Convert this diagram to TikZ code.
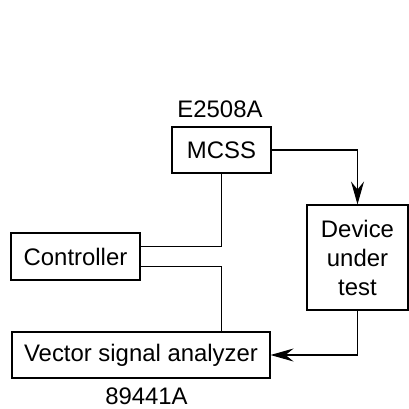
\documentclass[tikz,border=0pt]{standalone}
\usepackage{fontspec}
\setmainfont{Liberation Sans}
\usetikzlibrary{arrows.meta,positioning}
\tikzset{
  blk/.style={rectangle,draw,line width=0.6pt,inner sep=0pt,align=center,
    font=\fontsize{13.6}{16.5}\selectfont},
  lab/.style={inner sep=0pt,font=\fontsize{13.6}{16.5}\selectfont},
  wire/.style={line width=0.6pt},
  arr/.style={-{Stealth[length=4.6mm,width=2.6mm,inset=1.6mm]},line width=0.6pt}
}
\begin{document}
\begin{tikzpicture}
\useasboundingbox (0,0) rectangle (8.18,8.16);
% ---------- boxes ----------
\node[blk,minimum width=1.98cm,minimum height=0.92cm] (mcss) at (4.43,5.16) {MCSS};
\node[lab] (mcsslab) at (4.40,5.97) {E2508A};
\node[blk,minimum width=2.02cm,minimum height=2.10cm] (dut) at (7.15,3.01) {Device\\under\\test};
\node[blk,minimum width=2.58cm,minimum height=0.94cm] (ctrl) at (1.51,3.03) {Controller};
\node[blk,minimum width=5.16cm,minimum height=0.92cm] (vsa) at (2.82,1.06) {Vector signal analyzer};
\node[lab] (vsalab) at (2.93,0.24) {89441A};
% ---------- connections ----------
\draw[arr] (mcss.east) -| (dut.north);
\draw[arr] (dut.south) |- (vsa.east);
\draw[wire] (mcss.south) |- ([yshift=2mm]ctrl.east);
\draw[wire] ([yshift=-2mm]ctrl.east) -| (vsa.north -| mcss.south);
\end{tikzpicture}
\end{document}
